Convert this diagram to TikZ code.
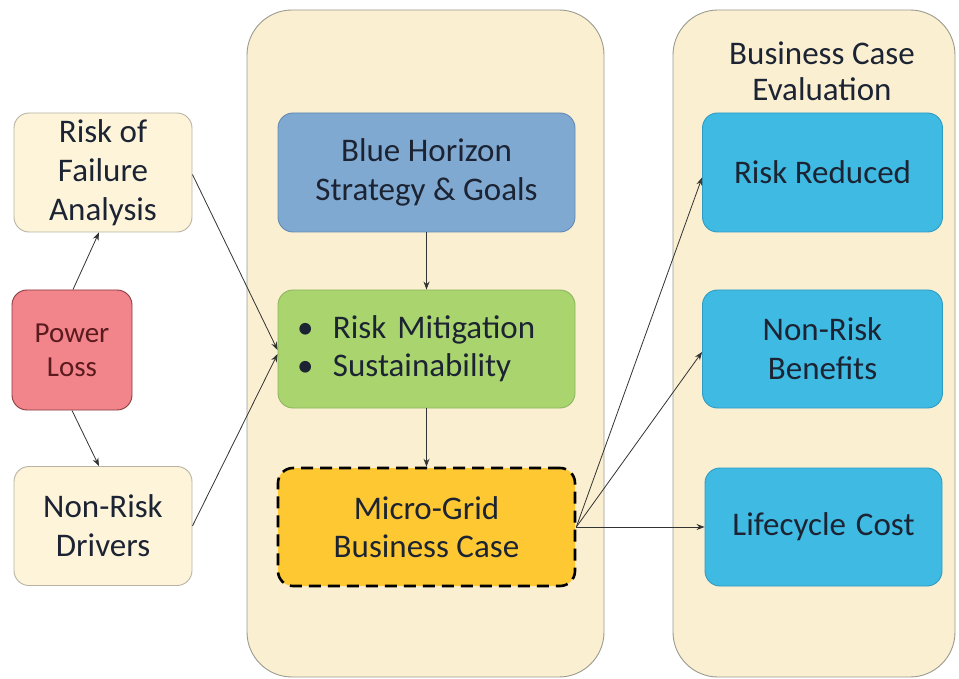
\documentclass[tikz,border=0pt]{standalone}
\usepackage{fontspec}
\setmainfont{Carlito}
\usetikzlibrary{arrows.meta}
\definecolor{panelfill}{HTML}{FBEFD2}
\definecolor{panelline}{HTML}{9A9A8E}
\definecolor{creamfill}{HTML}{FDF4DA}
\definecolor{creamline}{HTML}{B8B4A4}
\definecolor{redfill}{HTML}{F2858B}
\definecolor{redline}{HTML}{8A3B3E}
\definecolor{redtext}{HTML}{5A1A1E}
\definecolor{bluefill}{HTML}{80A9D2}
\definecolor{blueline}{HTML}{6289B2}
\definecolor{greenfill}{HTML}{AAD46E}
\definecolor{greenline}{HTML}{8DB65E}
\definecolor{goldfill}{HTML}{FEC832}
\definecolor{cyanfill}{HTML}{3FBAE3}
\definecolor{cyanline}{HTML}{2E9CC2}
\definecolor{txt}{HTML}{1C2433}
\begin{document}
\begin{tikzpicture}[x=1pt,y=-1pt,
  font=\fontsize{33}{39}\selectfont,
  panel/.style={draw=panelline,fill=panelfill,line width=0.9pt,rounded corners=45pt},
  box/.style={rounded corners=15pt,line width=0.9pt,align=center,text=txt,inner sep=0pt},
  creambox/.style={box,draw=creamline,fill=creamfill,minimum width=178pt,minimum height=119pt},
  redbox/.style={box,draw=redline,fill=redfill,text=redtext,minimum width=120pt,minimum height=120pt,
    font=\fontsize{29}{34}\selectfont},
  midbox/.style={box,minimum width=297pt,minimum height=119pt},
  cyanbox/.style={box,draw=cyanline,fill=cyanfill,minimum width=240pt,minimum height=119pt},
  arr/.style={draw=black!80,line width=0.8pt,-{Stealth[length=8pt,width=6pt]}}]
\useasboundingbox (0,0) rectangle (959,679);
\fill[white] (0,0) rectangle (959,679);
% panels
\draw[panel] (247,10) rectangle (604,677);
\draw[panel] (673,10) rectangle (955,677);
\node[text=txt,align=center,font=\fontsize{33}{36}\selectfont] (title) at (822,71) {Business Case\\Evaluation};
% left column
\node[creambox] (rof) at (103,172.5) {Risk of\\Failure\\Analysis};
\node[redbox] (power) at (72,350) {Power\\Loss};
\node[creambox] (nrd) at (103,526) {Non-Risk\\Drivers};
% middle column
\node[midbox,draw=blueline,fill=bluefill] (blue) at (426.5,172.5) {Blue Horizon\\Strategy \& Goals};
\node[midbox,draw=greenline,fill=greenfill,minimum height=118pt,text width=259pt,align=left,
  font=\fontsize{33}{38}\selectfont] (green) at (426.5,349)
  {\makebox[36pt][l]{\textbullet}Risk Mitigation\\\makebox[36pt][l]{\textbullet}Sustainability};
\node[midbox,draw=black,dash pattern=on 12pt off 7pt,line width=2.6pt,fill=goldfill,minimum height=118pt,
  font=\fontsize{33}{38}\selectfont] (micro) at (426.5,527) {Micro-Grid\\Business Case};
% right column
\node[cyanbox] (rr) at (822.5,172.5) {Risk Reduced};
\node[cyanbox,minimum height=118pt] (nrb) at (822.5,349) {Non-Risk\\Benefits};
\node[cyanbox,minimum width=237pt,minimum height=118pt] (lc) at (823.5,527) {Lifecycle\hspace{10pt}Cost};
% connectors
\draw[arr] ([xshift=1pt]power.north) -- ([xshift=-4pt]rof.south);
\draw[arr] (power.south) -- ([xshift=-4pt]nrd.north);
\draw[arr] ([yshift=-2pt]rof.east) -- ([yshift=-1pt]green.west);
\draw[arr] (nrd.east) -- ([yshift=-5pt]green.west);
\draw[arr] (blue.south) -- (green.north);
\draw[arr] (green.south) -- (micro.north);
\draw[arr] (micro.east) -- ([yshift=-5pt]rr.west);
\draw[arr] (micro.east) -- ([yshift=-3pt]nrb.west);
\draw[arr] (micro.east) -- (lc.west);
\end{tikzpicture}
\end{document}
